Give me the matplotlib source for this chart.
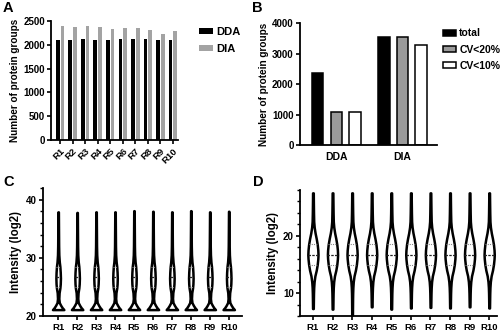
import matplotlib
matplotlib.use("Agg")
import matplotlib.pyplot as plt
import numpy as np

plt.rcParams['font.family'] = ['Liberation Sans', 'DejaVu Sans']
plt.rcParams['font.weight'] = 'bold'
plt.rcParams['axes.labelweight'] = 'bold'

# ---------------- data ----------------
reps = ['R1', 'R2', 'R3', 'R4', 'R5', 'R6', 'R7', 'R8', 'R9', 'R10']
dda_counts = [2110, 2100, 2115, 2110, 2095, 2120, 2115, 2120, 2100, 2095]
dia_counts = [2400, 2380, 2405, 2370, 2340, 2360, 2360, 2310, 2230, 2300]

methods = ['DDA', 'DIA']
b_total = [2360, 3550]
b_cv20 = [1070, 3540]
b_cv10 = [1070, 3270]

# violin density profiles (intensity level, relative half-width)
c_levels = [21.1, 21.4, 21.8, 22.3, 23.0, 24.0, 24.8, 25.5, 26.5, 27.5, 28.5, 29.3, 30.5, 32.0, 35.0, 38.0]
c_width = [0.30, 0.22, 0.14, 0.06, 0.035, 0.05, 0.09, 0.11, 0.12, 0.11, 0.09, 0.06, 0.035, 0.025, 0.018, 0.012]
c_top = [37.9, 37.8, 37.9, 37.9, 38.1, 38.0, 37.9, 38.1, 37.9, 38.0]
c_median = 26.7
c_quart = [25.0, 28.5]

d_levels = [7.4, 9.0, 10.0, 11.0, 12.0, 13.0, 14.0, 15.0, 16.0, 16.7, 17.5, 18.5, 19.5, 20.5, 21.5, 22.5, 24.0, 26.0, 27.5]
d_width = [0.018, 0.025, 0.03, 0.04, 0.06, 0.10, 0.17, 0.22, 0.25, 0.26, 0.25, 0.22, 0.17, 0.11, 0.065, 0.04, 0.03, 0.022, 0.018]
d_bottom = [7.3, 7.2, 6.2, 7.6, 7.2, 7.4, 7.5, 7.4, 7.6, 7.4]
d_median = 16.7
d_quart = [14.9, 18.5]

# ---------------- figure ----------------
fig = plt.figure(figsize=(5.0, 3.33), dpi=100)
W, H = 500, 333

def axpos(x0, y0, x1, y1):
    return [x0 / W, 1 - y1 / H, (x1 - x0) / W, (y1 - y0) / H]

def style(ax):
    for s in ['top', 'right']:
        ax.spines[s].set_visible(False)
    for s in ['left', 'bottom']:
        ax.spines[s].set_linewidth(1.3)
    ax.tick_params(direction='out', length=3, width=1.2, labelsize=7, pad=1.5)

# ---- A ----
axA = fig.add_axes(axpos(51, 21, 178, 140))
x = np.arange(len(reps))
axA.bar(x - 0.19, dda_counts, width=0.3, color='black', label='DDA')
axA.bar(x + 0.19, dia_counts, width=0.3, color='#a3a3a3', label='DIA')
axA.set_xlim(-0.72, 9.4)
axA.set_ylim(0, 2500)
axA.set_yticks([0, 500, 1000, 1500, 2000, 2500])
axA.set_xticks(x)
axA.set_xticklabels(reps, rotation=45, ha='right', rotation_mode='anchor')
style(axA)
axA.tick_params(axis='x', labelsize=6.8)
axA.set_ylabel('Number of protein groups', fontsize=7.2, labelpad=2)
axA.legend(loc='upper left', bbox_to_anchor=(1.13, 0.99), frameon=False, fontsize=8,
           handlelength=1.3, handleheight=0.45, handletextpad=0.3, labelspacing=0.65, borderaxespad=0)

# ---- B ----
axB = fig.add_axes(axpos(300, 23, 437, 145))
xb = np.arange(len(methods))
axB.bar(xb - 0.28, b_total, width=0.17, color='black', edgecolor='black', lw=1.1, label='total')
axB.bar(xb, b_cv20, width=0.17, color='#9a9a9a', edgecolor='black', lw=1.1, label='CV<20%')
axB.bar(xb + 0.28, b_cv10, width=0.17, color='white', edgecolor='black', lw=1.1, label='CV<10%')
axB.set_xlim(-0.55, 1.52)
axB.set_ylim(0, 4000)
axB.set_yticks([0, 1000, 2000, 3000, 4000])
axB.set_xticks(xb)
axB.set_xticklabels(methods)
style(axB)
axB.tick_params(axis='x', length=0, pad=5, labelsize=7.5)
axB.set_ylabel('Number of protein groups', fontsize=7.2, labelpad=2)
axB.legend(loc='upper left', bbox_to_anchor=(1.01, 0.99), frameon=False, fontsize=7.5,
           handlelength=1.3, handleheight=0.55, handletextpad=0.3, labelspacing=0.6, borderaxespad=0)

# ---- violins ----
def draw_violins(ax, levels, widths, ends, end_is_top, median, quart, lw):
    for i in range(len(ends)):
        lv = list(levels)
        if end_is_top:
            lv[-1] = ends[i]
        else:
            lv[0] = ends[i]
        lv = np.array(lv)
        w = np.array(widths)
        ax.fill_betweenx(lv, i - w, i + w, facecolor='white', edgecolor='black', lw=lw, zorder=3)
        wm = np.interp(median, lv, w)
        ax.plot([i - wm, i + wm], [median, median], color='#222222', lw=0.9, ls=(0, (2, 1)), zorder=4)
        for q in quart:
            wq = np.interp(q, lv, w)
            ax.plot([i - wq, i + wq], [q, q], color='#888888', lw=0.8, ls=(0, (1, 1)), zorder=4)

# ---- C ----
axC = fig.add_axes(axpos(43, 188, 242, 316))
draw_violins(axC, c_levels, c_width, c_top, True, c_median, c_quart, 1.8)
axC.set_xlim(-0.8, 9.7)
axC.set_ylim(20, 42)
axC.set_yticks([20, 30, 40])
axC.set_yticks(np.arange(20, 43, 2), minor=True)
axC.set_xticks(np.arange(len(reps)))
axC.set_xticklabels(reps)
style(axC)
axC.tick_params(axis='x', labelsize=6.8, pad=2)
axC.tick_params(which='minor', length=2, width=1)
axC.set_ylabel('Intensity (log2)', fontsize=8.3, labelpad=3)

# ---- D ----
axD = fig.add_axes(axpos(300, 190, 497, 316))
draw_violins(axD, d_levels, d_width, d_bottom, False, d_median, d_quart, 1.8)
axD.set_xlim(-0.66, 9.4)
axD.set_ylim(6, 28)
axD.set_yticks([10, 20])
axD.set_yticks(np.arange(6, 29, 2), minor=True)
axD.set_xticks(np.arange(len(reps)))
axD.set_xticklabels(reps)
style(axD)
axD.tick_params(axis='x', labelsize=6.8, pad=2)
axD.tick_params(which='minor', length=2, width=1)
axD.set_ylabel('Intensity (log2)', fontsize=8.3, labelpad=3)

# panel letters
for lab, (px, py) in {'A': (3, 1), 'B': (252, 1), 'C': (3, 175), 'D': (253, 175)}.items():
    fig.text(px / W, 1 - py / H, lab, fontsize=10.5, fontweight='bold', va='top', ha='left')

fig.savefig('out.png', dpi=100)
